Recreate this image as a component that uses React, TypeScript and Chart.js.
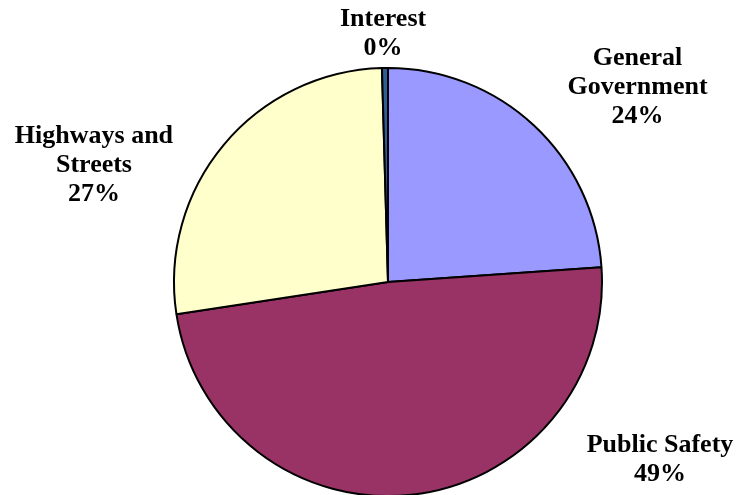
import React, { useEffect, useRef } from "react";
import { Chart, registerables } from "chart.js";

Chart.register(...registerables);

const categories = ["General Government", "Public Safety", "Highways and Streets", "Interest"];
const labelLines = [["General", "Government"], ["Public Safety"], ["Highways and", "Streets"], ["Interest"]];
const values = [23.9, 48.7, 26.95, 0.45];
const colors = ["#9999FF", "#993366", "#FFFFCC", "#2E5E94"];
// label anchor offsets relative to pie centre, in units of radius (centre x, first baseline)
const labelAnchors = [
  [1.166, -1.014],
  [1.271, 0.794],
  [-1.374, -0.65],
  [-0.023, -1.196],
];

const labelPlugin = {
  id: "pieLabels",
  afterDraw(chart: any) {
    const meta = chart.getDatasetMeta(0);
    const ctx = chart.ctx;
    const total = values.reduce((a, b) => a + b, 0);
    ctx.save();
    ctx.font = "bold 26px 'Liberation Serif', 'Times New Roman', serif";
    ctx.fillStyle = "#000";
    ctx.textAlign = "center";
    ctx.textBaseline = "alphabetic";
    meta.data.forEach((arc: any, i: number) => {
      const { x, y, outerRadius } = arc.getProps(["x", "y", "outerRadius"], true);
      const cx = x + labelAnchors[i][0] * outerRadius;
      let by = y + labelAnchors[i][1] * outerRadius;
      const lines = [...labelLines[i], Math.round((values[i] / total) * 100) + "%"];
      lines.forEach((t) => {
        ctx.fillText(t, cx, by);
        by += 29;
      });
    });
    ctx.restore();
  },
};

export default function App() {
  const ref = useRef<HTMLCanvasElement>(null);
  useEffect(() => {
    if (!ref.current) return;
    const chart = new Chart(ref.current, {
      type: "pie",
      data: {
        labels: categories,
        datasets: [
          {
            data: values,
            backgroundColor: colors,
            borderColor: "#000",
            borderWidth: 2,
          },
        ],
      },
      options: {
        responsive: false,
        animation: false,
        layout: { padding: { left: 173, right: 136, top: 67, bottom: 3 } },
        plugins: { legend: { display: false }, tooltip: { enabled: false } },
      },
      plugins: [labelPlugin],
    });
    return () => chart.destroy();
  }, []);
  return (
    <div style={{ position: "fixed", left: 0, top: 0, width: 739, height: 500, background: "#fff" }}>
      <canvas ref={ref} width={739} height={500} style={{ width: 739, height: 500 }} />
    </div>
  );
}
